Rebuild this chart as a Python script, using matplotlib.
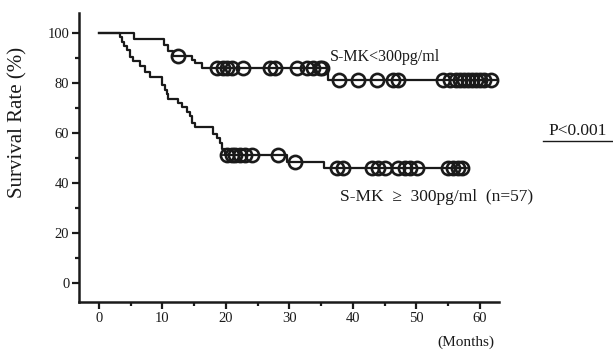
import matplotlib
matplotlib.use('Agg')
import matplotlib.pyplot as plt
from matplotlib.ticker import MultipleLocator
from matplotlib.lines import Line2D

plt.rcParams['font.family'] = ['Liberation Serif', 'DejaVu Serif']

# --- datos ---
# S-MK < 300pg/ml
bajo_t = [0, 5.5, 10.2, 10.8, 11.6, 14.6, 15.2, 16.2, 36.0, 62.7]
bajo_s = [100, 97.6, 95.2, 92.8, 90.6, 89.0, 88.0, 85.8, 81.0, 81.0]
bajo_cens_t = [12.4,
               18.6, 19.5, 20.2, 20.9, 22.7, 26.9, 27.7, 31.2, 32.8, 33.7, 34.8, 35.1,
               37.8, 40.8, 43.8, 46.3, 47.1, 54.2, 55.3, 56.2, 56.9, 57.5, 58.1,
               58.7, 59.4, 60.0, 60.6, 61.8]
bajo_cens_s = [90.6] + [85.8] * 12 + [81.0] * 16

# S-MK >= 300pg/ml (n=57)
alto_t = [0, 3.3, 3.6, 4.0, 4.4, 4.9, 5.4, 6.5, 7.2, 8.0, 9.9, 10.4, 10.7, 10.9,
          12.5, 13.0, 13.9, 14.3, 14.6, 15.1, 17.9, 18.6, 19.1, 19.4, 19.8,
          29.6, 35.4, 57.6]
alto_s = [100, 98.2, 96.5, 94.7, 93.0, 90.4, 88.6, 86.8, 84.2, 82.5, 79.0, 77.2,
          75.4, 73.7, 71.9, 70.2, 68.4, 66.7, 64.0, 62.3, 59.6, 57.9, 56.1, 53.5,
          51.0, 48.5, 46.0, 46.0]
alto_cens_t = [20.2, 20.9, 21.4, 22.2, 23.0, 24.1, 28.2,
               30.9,
               37.5, 38.5, 43.0, 43.9, 45.0, 47.1, 48.2, 49.0, 50.1, 55.0, 55.7,
               56.5, 57.2]
alto_cens_s = [51.0] * 7 + [48.5] + [46.0] * 13

x_ticks = [0, 10, 20, 30, 40, 50, 60]
y_ticks = [0, 20, 40, 60, 80, 100]

fig = plt.figure(figsize=(6.13, 3.59), dpi=100)
ax = fig.add_axes([0.1289, 0.1588, 0.685, 0.805])

color = '#1a1a1a'
for t, s, ct, cs in [(bajo_t, bajo_s, bajo_cens_t, bajo_cens_s),
                     (alto_t, alto_s, alto_cens_t, alto_cens_s)]:
    ax.step(t, s, where='post', color=color, linewidth=1.6)
    ax.plot(ct, cs, 'o', markersize=9.5, markerfacecolor='none',
            markeredgecolor=color, markeredgewidth=1.9)
    # linea horizontal del simbolo de censura
    ax.plot(ct, cs, '_', markersize=9.5, markeredgecolor=color, markeredgewidth=1.3)

ax.set_xlim(-3.15, 63)
ax.set_ylim(-7.6, 108)
ax.set_xticks(x_ticks)
ax.set_yticks(y_ticks)
ax.xaxis.set_minor_locator(MultipleLocator(5))
ax.yaxis.set_minor_locator(MultipleLocator(10))
ax.tick_params(which='major', length=5, width=1.6, labelsize=10.5, colors=color, pad=2)
ax.tick_params(which='minor', length=3, width=1.6, colors=color)

for lado in ['top', 'right']:
    ax.spines[lado].set_visible(False)
for lado in ['left', 'bottom']:
    ax.spines[lado].set_linewidth(1.8)
    ax.spines[lado].set_color(color)

ax.text(36.4, 90.4, 'S-MK<300pg/ml', fontsize=11.5, va='center', ha='left', color=color)
ax.text(38.0, 34.4, 'S-MK  \u2265  300pg/ml  (n=57)', fontsize=12.5, va='center', ha='left', color=color)

fig.text(0.029, 0.66, 'Survival Rate (%)', rotation=90, fontsize=15, ha='center', va='center', color=color)
fig.text(0.76, 0.047, '(Months)', fontsize=11, ha='center', va='center', color=color)
fig.text(0.943, 0.635, 'P<0.001', fontsize=12.5, ha='center', va='center', color=color)
fig.add_artist(Line2D([543 / 613, 1.0], [1 - 141 / 359, 1 - 141 / 359],
                      transform=fig.transFigure, color=color, linewidth=1.0))

fig.savefig('out.png', dpi=100)
